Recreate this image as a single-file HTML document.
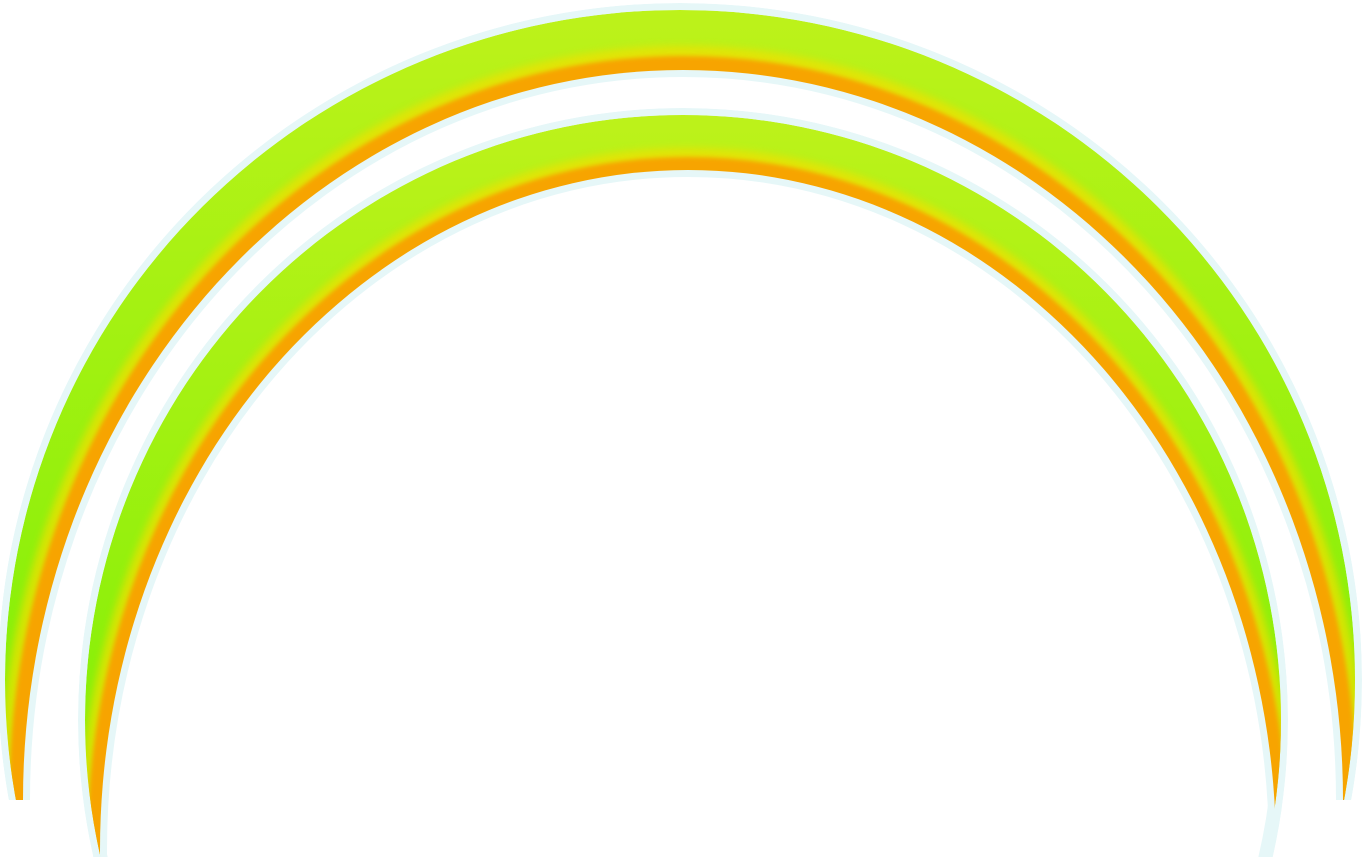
<!DOCTYPE html>
<html><head><meta charset="utf-8"><style>
html,body{margin:0;padding:0;background:#fff;width:1362px;height:857px;overflow:hidden}
svg{display:block;overflow:hidden}
</style></head><body>
<svg width="1362" height="857" viewBox="0 0 1362 857">
<defs>
<linearGradient id="grn" x1="0" y1="0" x2="0" y2="1">
<stop offset="0" stop-color="#bdf21a"/><stop offset="0.45" stop-color="#8cf00a"/><stop offset="1" stop-color="#6cf000"/>
</linearGradient>
<filter id="bl" x="-10%" y="-10%" width="120%" height="120%"><feGaussianBlur stdDeviation="4"/></filter>
<filter id="bl2" x="-10%" y="-10%" width="120%" height="120%"><feGaussianBlur stdDeviation="2"/></filter>
<clipPath id="o1"><ellipse cx="680" cy="680" rx="675" ry="670"/></clipPath>
<clipPath id="o2"><ellipse cx="683" cy="720" rx="598" ry="605"/></clipPath>
<clipPath id="o1h"><ellipse cx="680" cy="680" rx="682" ry="677"/></clipPath>
<clipPath id="o2h"><ellipse cx="683" cy="720" rx="605" ry="612"/></clipPath>
<mask id="m1" maskUnits="userSpaceOnUse" x="0" y="0" width="1362" height="857">
<rect x="0" y="0" width="1362" height="800" fill="#fff"/>
<ellipse cx="683" cy="800" rx="660" ry="730" fill="#000"/>
</mask>
<mask id="m2" maskUnits="userSpaceOnUse" x="0" y="0" width="1362" height="857">
<rect x="0" y="0" width="1362" height="857" fill="#fff"/>
<ellipse cx="688" cy="850" rx="588" ry="680" fill="#000"/>
</mask>
<mask id="h1" maskUnits="userSpaceOnUse" x="0" y="0" width="1362" height="857">
<rect x="0" y="0" width="1362" height="800" fill="#fff"/>
</mask>
</defs>

<g>
<g mask="url(#h1)">
<g clip-path="url(#o1h)">
<ellipse cx="680" cy="680" rx="675" ry="670" fill="none" stroke="#e6f7f8" stroke-width="14"/>
<ellipse cx="683" cy="800" rx="660" ry="730" fill="none" stroke="#e6f7f8" stroke-width="14"/>
</g>
</g>
<g mask="url(#m1)">
<g clip-path="url(#o1)">
<ellipse cx="680" cy="680" rx="675" ry="670" fill="url(#grn)"/>
<ellipse cx="683" cy="800" rx="660" ry="730" fill="none" stroke="#f0e000" stroke-width="48" filter="url(#bl)" opacity="0.75"/>
<ellipse cx="683" cy="800" rx="660" ry="730" fill="none" stroke="#f7a400" stroke-width="28" filter="url(#bl2)"/>
</g>
</g>
</g>

<g>
<g clip-path="url(#o2h)">
<ellipse cx="683" cy="720" rx="598" ry="605" fill="none" stroke="#e6f7f8" stroke-width="14"/>
<ellipse cx="688" cy="850" rx="588" ry="680" fill="none" stroke="#e6f7f8" stroke-width="14"/>
</g>
<g mask="url(#m2)">
<g clip-path="url(#o2)">
<ellipse cx="683" cy="720" rx="598" ry="605" fill="url(#grn)"/>
<ellipse cx="688" cy="850" rx="588" ry="680" fill="none" stroke="#f0e000" stroke-width="44" filter="url(#bl)" opacity="0.75"/>
<ellipse cx="688" cy="850" rx="588" ry="680" fill="none" stroke="#f7a400" stroke-width="26" filter="url(#bl2)"/>
</g>
</g>
</g>
</svg>
</body></html>
